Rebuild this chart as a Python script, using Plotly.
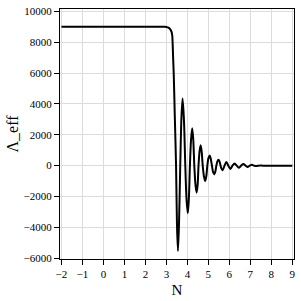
import plotly.graph_objects as go

# Values
N_vals = [-2.0, 1.0, 2.5, 2.9, 3.0, 3.1, 3.2, 3.25, 3.28, 3.32, 3.35, 3.40, 3.46, 3.505, 3.55,
          3.60, 3.66, 3.715, 3.77, 3.835, 3.90, 3.96, 4.02, 4.07, 4.12, 4.175, 4.23,
          4.28, 4.33, 4.385, 4.44, 4.49, 4.53, 4.58, 4.63, 4.68, 4.73, 4.79, 4.85,
          4.90, 4.95, 5.00, 5.06, 5.11, 5.17, 5.22, 5.28, 5.33, 5.38, 5.43, 5.48,
          5.53, 5.58, 5.63, 5.68, 5.77, 5.86, 5.95, 6.05, 6.15, 6.25, 6.35, 6.45,
          6.56, 6.67, 6.77, 6.87, 6.97, 7.08, 7.18, 7.28, 7.38, 7.48, 7.6, 8.0, 9.0]
Lambda_eff = [9000, 9000, 9000, 9000, 8990, 8940, 8800, 8650, 8400, 7000, 5900, 3200, 0, -3900, -5530,
              -3800, 0, 3050, 4350, 3000, 0, -2200, -3090, -2150, 0, 1700, 2415,
              1700, 0, -1230, -1750, -1230, 0, 930, 1325, 930, 0, -700, -990,
              -700, 0, 470, 660, 460, 0, -400, -570, -400, 0, 270, 380,
              270, 0, -210, -300, 0, 240, 0, -210, 0, 140,
              0, -140, 0, 100, 0, -90, 0, 50, 0, -30, 0, 15, 0, 0, 0]

x_ticks = [-2, -1, 0, 1, 2, 3, 4, 5, 6, 7, 8, 9]
x_tick_labels = ["−2", "−1", "0", "1", "2", "3", "4", "5", "6", "7", "8", "9"]
y_ticks = [-6000, -4000, -2000, 0, 2000, 4000, 6000, 8000, 10000]
y_tick_labels = ["−6000", "−4000", "−2000", "0", "2000", "4000", "6000", "8000", "10000"]

fig = go.Figure(go.Scatter(
    x=N_vals, y=Lambda_eff, mode="lines",
    line=dict(color="black", width=2, shape="spline", smoothing=0.8),
    showlegend=False,
))

font = dict(family="Liberation Serif", color="black")
axis_common = dict(
    showline=True, linecolor="black", linewidth=1, mirror=True,
    ticks="outside", ticklen=5, tickcolor="black",
    showgrid=True, gridcolor="#dcdcdc", gridwidth=1,
    zeroline=False, tickfont=dict(size=11, **font),
)
fig.update_layout(
    width=301, height=301,
    margin=dict(l=60, r=5, t=8, b=36),
    paper_bgcolor="white", plot_bgcolor="white",
    font=font,
    xaxis=dict(range=[-2.07, 9.08], tickvals=x_ticks, ticktext=x_tick_labels,
               title=dict(text="N", font=dict(size=15, **font), standoff=5), **axis_common),
    yaxis=dict(range=[-6050, 10150], tickvals=y_ticks, ticktext=y_tick_labels,
               title=dict(text="Λ_eff", font=dict(size=16, **font), standoff=0), **axis_common),
)
fig.write_html("out.html", config={"displayModeBar": False},
               post_script="document.body.style.margin='0';")
